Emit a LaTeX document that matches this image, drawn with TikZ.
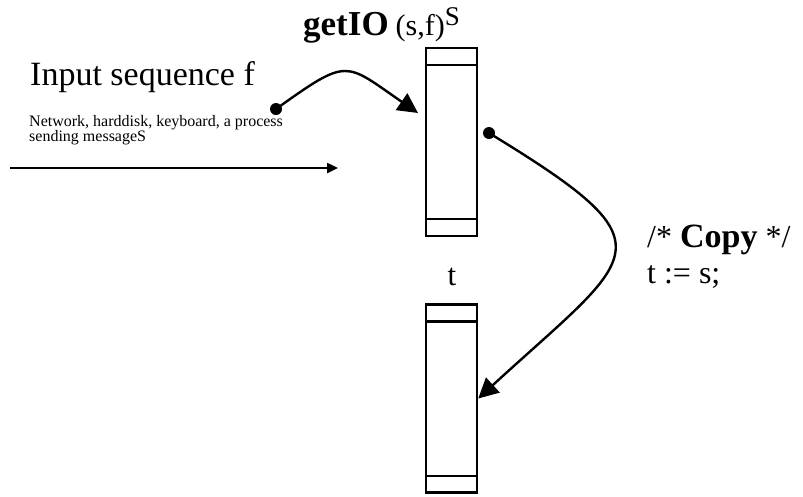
\documentclass[tikz,border=0pt]{standalone}
\usepackage{fontspec}
\setmainfont{Liberation Serif}
\usetikzlibrary{arrows.meta}
\tikzset{
  cell/.style={draw, line width=2.4pt, minimum width=51pt, minimum height=188pt, inner sep=0pt},
  dot/.style={circle, fill, inner sep=0pt, minimum size=12pt},
  flow/.style={line width=2.4pt, -{Triangle[length=20pt,width=20pt]}},
  feed/.style={line width=2.4pt, -{Triangle[length=11pt,width=10pt]}},
  label/.style={inner sep=0pt, anchor=base west, align=left}
}
\begin{document}
\begin{tikzpicture}[x=1pt,y=-1pt]
  \useasboundingbox (0,0) rectangle (803,496);

  % the two buffers s and t
  \node[cell] (sbox) at (451.5,142) {};
  \node[cell] (tbox) at (451.5,398.5) {};
  \foreach \c in {sbox,tbox}{
    \draw[line width=2.4pt] ([yshift=-18pt]\c.north west) -- ([yshift=-18pt]\c.north east);
    \draw[line width=2.4pt] ([yshift=18pt]\c.south west) -- ([yshift=18pt]\c.south east);
  }
  \node[inner sep=0pt, anchor=base, font=\fontsize{31}{36}\selectfont] (tname) at (452,285) {t};

  % input side (base of a multi-line label is its last line)
  \node[label, font=\fontsize{34}{40}\selectfont] (input) at (30,85) {Input sequence f};
  \node[label, font=\fontsize{16}{15}\selectfont] (sources) at (29,141)
    {Network, harddisk, keyboard, a process\\sending messageS};
  \coordinate (feedin) at (10,168);
  \coordinate (feedout) at (338,168);
  \draw[feed] (feedin) -- (feedout);

  % read call
  \node[label] (call) at (303,35)
    {\fontsize{35}{40}\selectfont\textbf{getIO}\hspace{7pt}\fontsize{30}{40}\selectfont(s,f)%
     \raisebox{10pt}{\fontsize{27}{36}\selectfont S}};
  \node[dot] (fdot) at (276,109) {};
  \coordinate (sin) at (418,113);
  \draw[flow] (fdot.center) .. controls (349,57) and (344,62) .. (sin);

  % copy s into t
  \node[label, font=\fontsize{32}{36}\selectfont] (copy) at (647,283)
    {/* {\fontsize{34}{36}\selectfont\textbf{Copy}} */\\t := s;};
  \node[dot] (sdot) at (489,133) {};
  \draw[flow] (sdot.center) .. controls (676,247) and (638,252) .. (tbox.east);
\end{tikzpicture}
\end{document}
